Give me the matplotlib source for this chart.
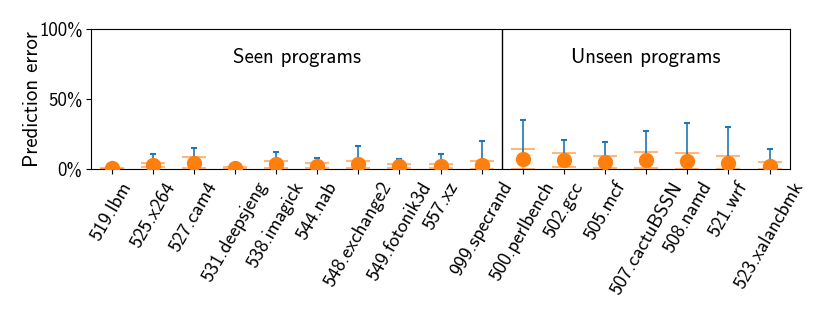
import numpy as np
import matplotlib
matplotlib.use("Agg")
import matplotlib.pyplot as plt
from matplotlib.ticker import PercentFormatter

plt.rcParams['font.family'] = ['cmss10', 'DejaVu Sans']
plt.rcParams['mathtext.fontset'] = 'cm'
plt.rcParams['axes.formatter.use_mathtext'] = True

seen = ["519.lbm", "525.x264", "527.cam4", "531.deepsjeng", "538.imagick",
        "544.nab", "548.exchange2", "549.fotonik3d", "557.xz", "999.specrand"]
unseen = ["500.perlbench", "502.gcc", "505.mcf", "507.cactuBSSN", "508.namd",
          "521.wrf", "523.xalancbmk"]
programs = seen + unseen

# mean / std / max prediction error in %
mean_err = [0.5, 2.9, 4.5, 0.6, 3.3, 2.4, 3.3, 2.1, 2.1, 2.9,
            7.0, 6.5, 5.0, 6.4, 6.0, 4.5, 2.4]
std_err = [0.4, 1.3, 3.8, 0.5, 2.7, 1.6, 2.7, 1.5, 1.5, 2.8,
           7.0, 5.2, 4.3, 6.0, 5.7, 4.8, 2.4]
max_err = [1.0, 10.5, 15.0, 1.2, 11.9, 8.0, 16.2, 7.4, 10.5, 20.2,
           35.0, 20.5, 19.5, 27.4, 33.0, 30.0, 14.5]

x = np.arange(len(programs))
mean_err = np.array(mean_err)
std_err = np.array(std_err)
max_err = np.array(max_err)

fig = plt.figure(figsize=(8.3, 3.12), dpi=100)
ax = fig.add_axes([0.1096, 0.4583, 0.8424, 0.4487])

# std band shown as wide light caps
ax.errorbar(x, mean_err, yerr=std_err, fmt='none', ecolor='#ff7f0e',
            elinewidth=1.2, capsize=8.3, capthick=1.5, alpha=0.55, zorder=2)
# range up to max
ax.errorbar(x, mean_err, yerr=[np.zeros_like(max_err), max_err - mean_err],
            fmt='none', ecolor='#1f77b4', elinewidth=1.2, capsize=2.5,
            capthick=1.5, zorder=3)
ax.plot(x, mean_err, 'o', color='#ff7f0e', markersize=10, zorder=4)

ax.axvline(len(seen) - 0.5, color='black', linewidth=1)
ax.text((len(seen) - 1) / 2, 80, "Seen programs", ha='center', va='center',
        fontsize=15)
ax.text(len(seen) + (len(unseen) - 1) / 2, 80, "Unseen programs", ha='center',
        va='center', fontsize=15)

ax.set_xlim(-0.5, len(programs) - 0.5)
ax.set_ylim(0, 100)
ax.set_yticks([0, 50, 100])
ax.yaxis.set_major_formatter(PercentFormatter(decimals=0))
ax.set_xticks(x)
ax.set_xticklabels(programs, rotation=60)
ax.tick_params(axis='x', labelsize=14)
ax.tick_params(axis='y', labelsize=13.5, pad=2.5)
ax.set_ylabel("Prediction error", fontsize=15)
ax.yaxis.set_label_coords(-0.07, 0.5)

fig.savefig("out.png", dpi=100)
